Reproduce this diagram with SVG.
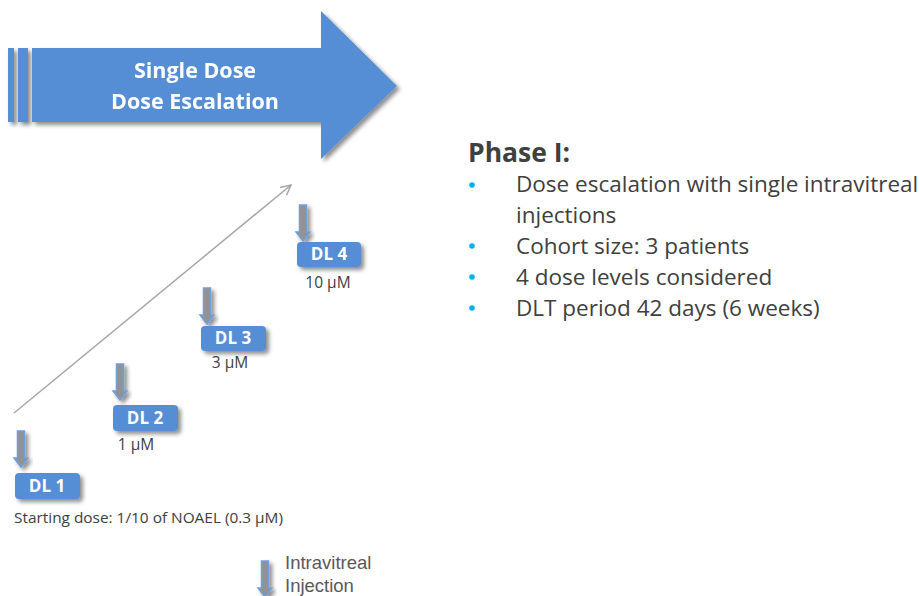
<svg xmlns="http://www.w3.org/2000/svg" width="920" height="596" viewBox="0 0 920 596">
<style>
.box{fill:#558ED5;}
.dl{font-family:"Open Sans","Liberation Sans",sans-serif;font-weight:bold;font-size:17px;fill:#fff;text-anchor:middle;}
.lab{font-family:"Open Sans","Liberation Sans",sans-serif;font-size:14.5px;fill:#404040;}
.val{font-family:"Open Sans","Liberation Sans",sans-serif;font-size:15.5px;fill:#404040;text-anchor:middle;}
.inj{fill:#929292;stroke:#6F9FDD;stroke-width:1.5;}
.ph{font-family:"Open Sans","Liberation Sans",sans-serif;font-size:22.5px;fill:#404040;}
.bul{fill:#00B0F0;}
.ban{font-family:"Open Sans","Liberation Sans",sans-serif;font-weight:bold;font-size:21.5px;fill:#fff;text-anchor:middle;}
.leg{font-family:"Liberation Sans",Arial,sans-serif;font-size:18.5px;fill:#595959;}
</style>
<defs>
<filter id="sh" x="-20%" y="-20%" width="150%" height="160%">
<feGaussianBlur in="SourceAlpha" stdDeviation="2"/>
<feOffset dx="3" dy="3"/>
<feComponentTransfer><feFuncA type="linear" slope="0.45"/></feComponentTransfer>
<feMerge><feMergeNode/><feMergeNode in="SourceGraphic"/></feMerge>
</filter>
<marker id="open" viewBox="0 0 12 12" refX="11" refY="6" markerWidth="12" markerHeight="12" markerUnits="userSpaceOnUse" orient="auto">
<path d="M1,1 L11,6 L1,11" fill="none" stroke="#A6A6A6" stroke-width="1.5"/>
</marker>
<path id="down" d="M-3.5,0 H3.5 V27 H7 L0,36 L-7,27 H-3.5 Z"/>
</defs>

<g id="banner" filter="url(#sh)">
<rect x="8" y="48" width="6" height="74" fill="#558ED5"/>
<rect x="18" y="48" width="10" height="74" fill="#558ED5"/>
<path d="M32,48 H321 V11 L397,86 L321,159 V122 H32 Z" fill="#558ED5"/>
<text class="ban" x="195" y="78">Single Dose</text>
<text class="ban" x="195" y="109">Dose Escalation</text>
</g>

<g id="connectors">
<line x1="14" y1="413" x2="291" y2="185" stroke="#A6A6A6" stroke-width="1.5" marker-end="url(#open)"/>
</g>

<g id="dl1">
<use href="#down" x="21" y="431" class="inj" filter="url(#sh)"/>
<rect class="box" x="15" y="473" width="65" height="26" rx="4" filter="url(#sh)"/>
<text class="dl" x="47" y="492">DL 1</text>
<text class="lab" x="14" y="523" textLength="269" lengthAdjust="spacingAndGlyphs">Starting dose: 1/10 of NOAEL (0.3 µM)</text>
</g>

<g id="dl2">
<use href="#down" x="120" y="364" class="inj" filter="url(#sh)"/>
<rect class="box" x="113" y="405" width="65" height="26" rx="4" filter="url(#sh)"/>
<text class="dl" x="145" y="424">DL 2</text>
<text class="val" x="136" y="450">1 µM</text>
</g>

<g id="dl3">
<use href="#down" x="207" y="288" class="inj" filter="url(#sh)"/>
<rect class="box" x="201" y="326" width="65" height="25" rx="4" filter="url(#sh)"/>
<text class="dl" x="233" y="344">DL 3</text>
<text class="val" x="230" y="368">3 µM</text>
</g>

<g id="dl4">
<use href="#down" x="303" y="205" class="inj" filter="url(#sh)"/>
<rect class="box" x="297" y="242" width="64" height="25" rx="4" filter="url(#sh)"/>
<text class="dl" x="329" y="260">DL 4</text>
<text class="val" x="328" y="288">10 µM</text>
</g>

<g id="legend">
<use href="#down" x="265" y="561" class="inj" filter="url(#sh)"/>
<text class="leg" x="285" y="569">Intravitreal</text>
<text class="leg" x="285" y="592">Injection</text>
</g>

<g id="phase">
<text x="468" y="162" style="font-family:'Open Sans','Liberation Sans',sans-serif;font-weight:bold;font-size:26.5px;fill:#404040">Phase I:</text>
<circle class="bul" cx="472" cy="185" r="2.8"/>
<circle class="bul" cx="472" cy="246" r="2.8"/>
<circle class="bul" cx="472" cy="277" r="2.8"/>
<circle class="bul" cx="472" cy="308" r="2.8"/>
<text class="ph" x="516" y="192">Dose escalation with single intravitreal</text>
<text class="ph" x="516" y="223">injections</text>
<text class="ph" x="516" y="254">Cohort size: 3 patients</text>
<text class="ph" x="516" y="285">4 dose levels considered</text>
<text class="ph" x="516" y="316">DLT period 42 days (6 weeks)</text>
</g>
</svg>
